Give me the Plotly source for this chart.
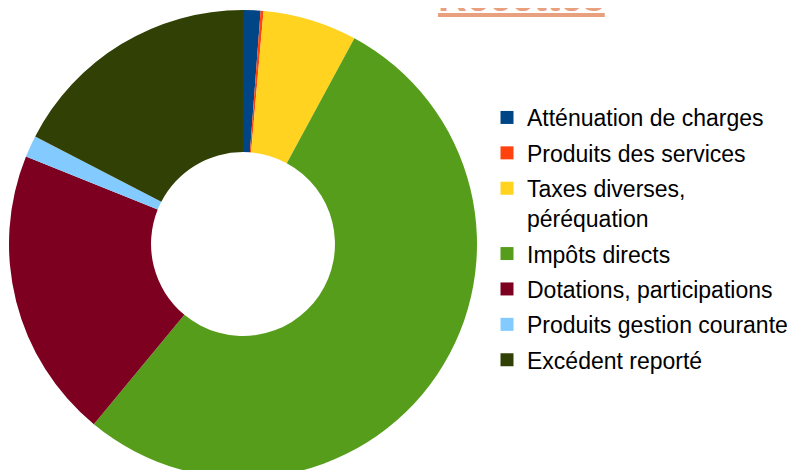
import plotly.graph_objects as go

labels = ["Atténuation de charges", "Produits des services", "Taxes diverses,<br>péréquation",
          "Impôts directs", "Dotations, participations", "Produits gestion courante", "Excédent reporté"]
values = [1.2, 0.2, 6.5, 53.1, 20.1, 1.5, 17.4]
colors = ["#004586", "#FF420E", "#FFD320", "#579D1C", "#7E0021", "#83CAFF", "#314004"]
title_text = "Recettes"

W, H = 795, 490
OFF = 8  # page body margin
fig = go.Figure(go.Pie(
    labels=labels, values=values, sort=False, direction="clockwise", rotation=0,
    hole=0.393, textinfo="none", hoverinfo="label+percent",
    marker=dict(colors=colors, line=dict(width=0)),
    domain=dict(x=[(9 - OFF) / W, (477 - OFF) / W], y=[(H - 478 + OFF) / H, (H - 10 + OFF) / H]),
    showlegend=False,
))
# legend entries (one per slice, so spacing between entries can be tuned)
for i, (lab, col) in enumerate(zip(labels, colors)):
    fig.add_trace(go.Scatter(
        x=[None], y=[None], mode="markers", name=lab, legendgroup=str(i),
        marker=dict(symbol="square", size=13, color=col), hoverinfo="skip",
    ))
fig.add_annotation(
    text="<b>" + title_text + "</b>", xref="paper", yref="paper", x=(521 - OFF) / W, y=(H - 21 + OFF) / H,
    xanchor="center", yanchor="bottom", showarrow=False,
    font=dict(family="Liberation Sans", size=40, color="#E9A07F", lineposition="under"),
)
fig.update_layout(
    width=W, height=H, margin=dict(l=0, r=0, t=0, b=0),
    paper_bgcolor="white", plot_bgcolor="white",
    showlegend=True,
    xaxis=dict(visible=False), yaxis=dict(visible=False),
    legend=dict(x=(503 - 16 - OFF) / W, y=(H - 96 + OFF) / H, xanchor="left", yanchor="top",
                font=dict(family="Liberation Sans", size=23, color="#000000"),
                tracegroupgap=2.5, valign="top", itemsizing="trace"),
    font=dict(family="Liberation Sans"),
)
fig.write_html("out.html")
